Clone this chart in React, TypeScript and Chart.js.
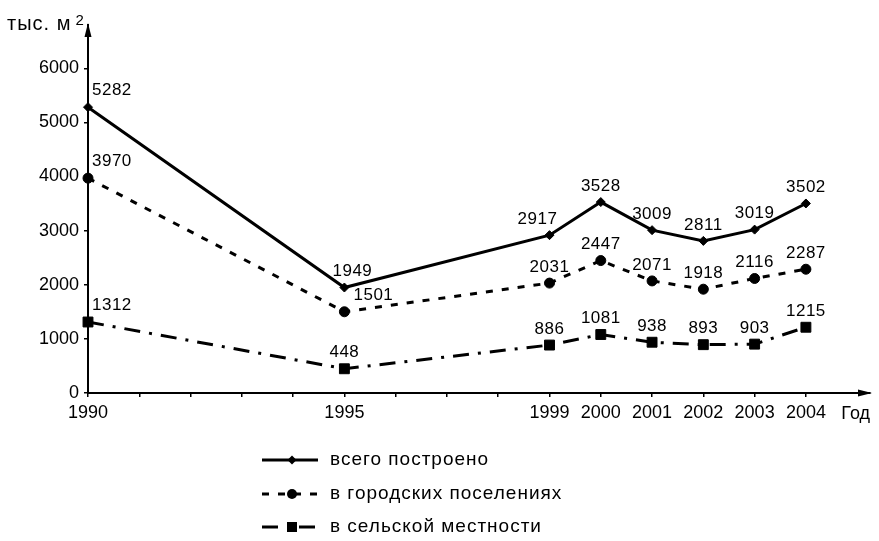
import { useEffect, useRef } from 'react';
import { Chart, registerables } from 'chart.js';

Chart.register(...registerables);

const FONT = "'Liberation Sans', Arial, sans-serif";

const years = [1990, 1995, 1999, 2000, 2001, 2002, 2003, 2004];
const totalBuilt = [5282, 1949, 2917, 3528, 3009, 2811, 3019, 3502];
const urban = [3970, 1501, 2031, 2447, 2071, 1918, 2116, 2287];
const rural = [1312, 448, 886, 1081, 938, 893, 903, 1215];
const yTicks = [0, 1000, 2000, 3000, 4000, 5000, 6000];
const seriesNames = ['всего построено', 'в городских поселениях', 'в сельской местности'];
const yAxisTitle = 'тыс. м';
const yAxisTitleSup = '2';
const xAxisTitle = 'Год';

// horizontal nudges of a few value labels (style only)
const labelShift: Record<string, number> = { '0-1': 8, '0-2': -12, '1-1': 29 };

const styles = [
  { dash: [] as number[], pointStyle: 'rectRot', radius: 4.5 },
  { dash: [7, 9], pointStyle: 'circle', radius: 5 },
  { dash: [16, 9, 3, 9], pointStyle: 'rect', radius: 7 },
];

function toPoints(vals: number[]) {
  return years.map((y, i) => ({ x: y, y: vals[i] }));
}

export default function App() {
  const ref = useRef<HTMLCanvasElement>(null);

  useEffect(() => {
    document.body.style.margin = '0';
    document.body.style.overflow = 'hidden';
    const canvas = ref.current!;
    const allYears: number[] = [];
    for (let y = years[0]; y <= years[years.length - 1]; y++) allYears.push(y);

    const overlay = {
      id: 'overlay',
      afterDraw(chart: any) {
        const ctx = chart.ctx as any;
        const xs = chart.scales.x;
        const ys = chart.scales.y;
        const left = xs.left;
        const bottom = ys.bottom;
        ctx.save();
        ctx.fillStyle = '#000';
        ctx.strokeStyle = '#000';
        // arrows
        ctx.beginPath();
        ctx.moveTo(left, ys.top - 2);
        ctx.lineTo(left - 3.5, ys.top + 12);
        ctx.lineTo(left + 3.5, ys.top + 12);
        ctx.closePath();
        ctx.fill();
        ctx.beginPath();
        ctx.moveTo(xs.right + 2, bottom);
        ctx.lineTo(xs.right - 12, bottom - 3.5);
        ctx.lineTo(xs.right - 12, bottom + 3.5);
        ctx.closePath();
        ctx.fill();
        // axis titles
        ctx.letterSpacing = '1px';
        ctx.font = `20px ${FONT}`;
        ctx.textAlign = 'left';
        ctx.textBaseline = 'alphabetic';
        ctx.fillText(yAxisTitle, 7, 30);
        const w = ctx.measureText(yAxisTitle).width;
        ctx.font = `15px ${FONT}`;
        ctx.fillText(yAxisTitleSup, 7 + w + 4, 25);
        ctx.letterSpacing = '0px';
        ctx.font = `18px ${FONT}`;
        ctx.textAlign = 'right';
        ctx.textBaseline = 'middle';
        ctx.fillText(xAxisTitle, xs.right, 414);
        // value labels
        ctx.letterSpacing = '0.5px';
        ctx.font = `17px ${FONT}`;
        ctx.textBaseline = 'middle';
        chart.data.datasets.forEach((ds: any, di: number) => {
          const meta = chart.getDatasetMeta(di);
          meta.data.forEach((pt: any, i: number) => {
            const v = ds.data[i].y;
            if (i === 0) {
              ctx.textAlign = 'left';
              ctx.fillText(String(v), pt.x + 4, pt.y - 17);
            } else {
              ctx.textAlign = 'center';
              const dx = labelShift[`${di}-${i}`] || 0;
              ctx.fillText(String(v), pt.x + dx, pt.y - 16);
            }
          });
        });
        // legend
        const rowsY = [460, 494, 527];
        chart.data.datasets.forEach((ds: any, di: number) => {
          const y = rowsY[di];
          const st = styles[di];
          ctx.lineWidth = 3;
          ctx.setLineDash(st.dash);
          ctx.beginPath();
          ctx.moveTo(262, y);
          ctx.lineTo(318, y);
          ctx.stroke();
          ctx.setLineDash([]);
          const mx = 292;
          ctx.beginPath();
          if (st.pointStyle === 'circle') {
            ctx.arc(mx, y, 5, 0, Math.PI * 2);
          } else if (st.pointStyle === 'rect') {
            ctx.rect(mx - 5, y - 5, 10, 10);
          } else {
            ctx.moveTo(mx, y - 4.5);
            ctx.lineTo(mx + 4.5, y);
            ctx.lineTo(mx, y + 4.5);
            ctx.lineTo(mx - 4.5, y);
            ctx.closePath();
          }
          ctx.fill();
          ctx.letterSpacing = '1px';
          ctx.font = `19px ${FONT}`;
          ctx.textAlign = 'left';
          ctx.textBaseline = 'middle';
          ctx.fillText(ds.label, 330, y);
        });
        ctx.restore();
      },
    };

    const mk = (label: string, vals: number[], si: number) => ({
      label,
      data: toPoints(vals),
      borderColor: '#000',
      backgroundColor: '#000',
      pointBackgroundColor: '#000',
      pointBorderColor: '#000',
      borderWidth: 3,
      borderDash: styles[si].dash,
      pointStyle: styles[si].pointStyle,
      pointRadius: styles[si].radius,
      pointBorderWidth: 1,
      tension: 0,
      clip: false,
    });

    const chart = new Chart(canvas, {
      type: 'line',
      data: {
        datasets: [
          mk(seriesNames[0], totalBuilt, 0),
          mk(seriesNames[1], urban, 1),
          mk(seriesNames[2], rural, 2),
        ] as any,
      },
      options: {
        animation: false,
        responsive: false,
        devicePixelRatio: 1,
        layout: { padding: { top: 25, right: 9, bottom: 108, left: 0 } },
        plugins: { legend: { display: false }, tooltip: { enabled: false } },
        scales: {
          x: {
            type: 'linear',
            min: 1990,
            max: 2005.25,
            afterBuildTicks: (s: any) => {
              s.ticks = allYears.map((v) => ({ value: v }));
            },
            afterFit: (s: any) => {
              s.height = 40;
            },
            ticks: {
              autoSkip: false,
              maxRotation: 0,
              color: '#000',
              padding: 5,
              font: { family: FONT, size: 18 },
              callback: (v: any) => (years.includes(Number(v)) ? String(v) : ''),
            },
            grid: { drawOnChartArea: false, tickLength: 4, color: '#000', lineWidth: 1.5 },
            border: { color: '#000', width: 2 },
          },
          y: {
            type: 'linear',
            min: 0,
            max: 6800,
            afterBuildTicks: (s: any) => {
              s.ticks = yTicks.map((v) => ({ value: v }));
            },
            afterFit: (s: any) => {
              s.width = 88;
            },
            ticks: {
              color: '#000',
              padding: 5,
              font: { family: FONT, size: 18 },
              callback: (v: any) => String(v),
            },
            grid: { drawOnChartArea: false, tickLength: 4, color: '#000', lineWidth: 1.5 },
            border: { color: '#000', width: 2 },
          },
        },
      } as any,
      plugins: [overlay],
    });
    return () => chart.destroy();
  }, []);

  return <canvas ref={ref} width={879} height={541} style={{ display: 'block' }} />;
}
